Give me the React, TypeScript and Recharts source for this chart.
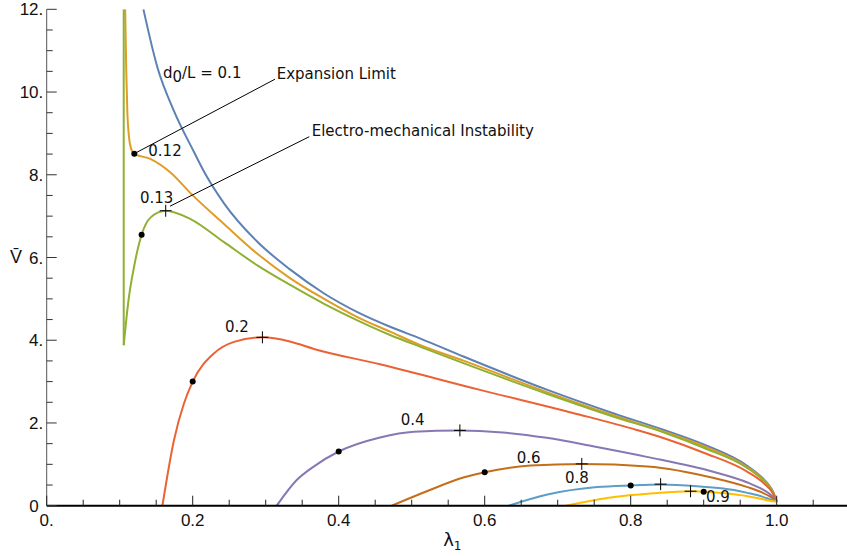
import React from "react";
import { ComposedChart, Line, Scatter, XAxis, YAxis, ReferenceLine } from "recharts";

// d0/L = 0.1 (blue)
const lam010 = [0.1325, 0.1516, 0.1744, 0.2018, 0.2145, 0.2429, 0.2886, 0.3342, 0.38, 0.4256, 0.4712, 0.512, 0.5717, 0.686, 0.777, 0.8457, 0.9, 0.96, 0.98, 0.99, 0.995, 1.0];
const v010 = [12, 10.6, 9.54, 8.55, 8.11, 7.31, 6.38, 5.7, 5.13, 4.68, 4.32, 4.04, 3.6, 2.8, 2.23, 1.83, 1.48, 0.96, 0.68, 0.48, 0.34, 0.1];
// d0/L = 0.12 (orange)
const lam012 = [0.1075, 0.109, 0.1105, 0.1125, 0.1151, 0.1196, 0.1425, 0.17, 0.1973, 0.2429, 0.2886, 0.3342, 0.38, 0.4256, 0.4712, 0.512, 0.5717, 0.686, 0.777, 0.8457, 0.9, 0.96, 0.98, 0.99, 0.995, 1.0];
const v012 = [12, 10.5, 9.5, 8.95, 8.66, 8.51, 8.38, 8.05, 7.55, 6.81, 6.09, 5.49, 5.0, 4.56, 4.2, 3.88, 3.5, 2.74, 2.18, 1.79, 1.44, 0.93, 0.66, 0.47, 0.33, 0.1];
// d0/L = 0.13 (green): vertical branch + main branch
const lam013v = [0.1055, 0.1055];
const v013v = [12, 3.88];
const lam013 = [0.1055, 0.112, 0.1196, 0.13, 0.1425, 0.163, 0.197, 0.2429, 0.2886, 0.3342, 0.38, 0.4256, 0.4712, 0.512, 0.5717, 0.686, 0.777, 0.8457, 0.9, 0.96, 0.98, 0.99, 0.995, 1.0];
const v013 = [3.88, 4.96, 5.77, 6.55, 6.97, 7.13, 6.93, 6.37, 5.81, 5.33, 4.88, 4.48, 4.12, 3.84, 3.44, 2.7, 2.15, 1.77, 1.4, 0.91, 0.64, 0.46, 0.32, 0.1];
// d0/L = 0.2 (red)
const lam02 = [0.1585, 0.1744, 0.188, 0.2, 0.229, 0.2566, 0.2955, 0.333, 0.366, 0.4566, 0.5936, 0.7305, 0.8082, 0.8457, 0.9, 0.96, 0.98, 0.99, 0.995, 1.0];
const v02 = [0, 1.59, 2.47, 3.0, 3.68, 3.96, 4.07, 3.97, 3.79, 3.42, 2.8, 2.2, 1.83, 1.63, 1.28, 0.82, 0.58, 0.41, 0.29, 0.1];
// d0/L = 0.4 (purple)
const lam04 = [0.3151, 0.3425, 0.3652, 0.4, 0.4566, 0.503, 0.566, 0.625, 0.685, 0.75, 0.822, 0.913, 0.96, 0.98, 0.99, 0.995, 1.0];
const v04 = [0, 0.62, 0.94, 1.31, 1.65, 1.79, 1.82, 1.77, 1.64, 1.43, 1.18, 0.82, 0.56, 0.4, 0.29, 0.21, 0.1];
// d0/L = 0.6 (brown)
const lam06 = [0.4726, 0.525, 0.5707, 0.6, 0.663, 0.733, 0.823, 0.914, 0.96, 0.98, 0.99, 1.0];
const v06 = [0, 0.38, 0.68, 0.81, 0.97, 1.01, 0.95, 0.67, 0.45, 0.32, 0.23, 0.1];
// d0/L = 0.8 (light blue)
const lam08 = [0.633, 0.686, 0.754, 0.8, 0.841, 0.891, 0.9415, 0.96, 0.98, 0.99, 1.0];
const v08 = [0, 0.27, 0.45, 0.49, 0.51, 0.47, 0.38, 0.31, 0.22, 0.16, 0.1];
// d0/L = 0.9 (yellow)
const lam09 = [0.711, 0.759, 0.777, 0.83, 0.882, 0.9, 0.93, 0.96, 0.98, 0.99, 1.0];
const v09 = [0, 0.16, 0.21, 0.3, 0.35, 0.34, 0.3, 0.23, 0.16, 0.12, 0.1];

// expansion limit points (dots)
const dotLam = [0.12, 0.13, 0.2, 0.4, 0.6, 0.8, 0.9];
const dotV = [8.51, 6.55, 3.0, 1.31, 0.81, 0.49, 0.34];
// electro-mechanical instability points (crosses)
const plusLam = [0.163, 0.2955, 0.566, 0.733, 0.841, 0.882];
const plusV = [7.13, 4.07, 1.82, 1.01, 0.52, 0.35];

// curve labels
const curveLabels = ["0.12", "0.13", "0.2", "0.4", "0.6", "0.8", "0.9"];
const curveLabelLam = [0.1392, 0.1278, 0.2442, 0.4849, 0.6438, 0.71, 0.9031];
const curveLabelV = [8.45, 7.32, 4.2, 1.95, 1.03, 0.55, 0.09];

// annotation texts
const annoTexts = ["Expansion Limit", "Electro-mechanical Instability"];
const annoLam = [0.3151, 0.363];
const annoV = [10.31, 8.94];
const firstLabelLam = [0.1593];
const firstLabelV = [10.34];

// leader lines
const leaderExp = [{ x: 0.12, y: 8.51 }, { x: 0.3127, y: 10.31 }];
const leaderEmi = [{ x: 0.1689, y: 7.24 }, { x: 0.3597, y: 8.92 }];

// ticks
const xMajor = [0, 0.2, 0.4, 0.6, 0.8, 1.0];
const xLabels = ["0.", "0.2", "0.4", "0.6", "0.8", "1.0"];
const xAllTicks = [0, 0.05, 0.1, 0.15, 0.2, 0.25, 0.3, 0.35, 0.4, 0.45, 0.5, 0.55, 0.6, 0.65, 0.7, 0.75, 0.8, 0.85, 0.9, 0.95, 1.0, 1.05];
const yMajor = [0, 2, 4, 6, 8, 10, 12];
const yLabels = ["0", "2.", "4.", "6.", "8.", "10.", "12."];
const yAllTicks = [0, 0.5, 1, 1.5, 2, 2.5, 3, 3.5, 4, 4.5, 5, 5.5, 6, 6.5, 7, 7.5, 8, 8.5, 9, 9.5, 10, 10.5, 11, 11.5, 12];

const zip = (l: number[], v: number[]) => l.map((x, i) => ({ x, y: v[i] }));

const series = [
  { name: "0.1", data: zip(lam010, v010), color: "#5E81B5" },
  { name: "0.12", data: zip(lam012, v012), color: "#E19C24" },
  { name: "0.13v", data: zip(lam013v, v013v), color: "#8FB032", linear: true },
  { name: "0.13", data: zip(lam013, v013), color: "#8FB032" },
  { name: "0.2", data: zip(lam02, v02), color: "#EB6235" },
  { name: "0.4", data: zip(lam04, v04), color: "#8778B3" },
  { name: "0.6", data: zip(lam06, v06), color: "#C56E1A" },
  { name: "0.8", data: zip(lam08, v08), color: "#5D9EC7" },
  { name: "0.9", data: zip(lam09, v09), color: "#FFBF00" },
];

const dots = zip(dotLam, dotV);
const pluses = zip(plusLam, plusV);
const curveLabelData = curveLabelLam.map((x, i) => ({ x, y: curveLabelV[i], label: curveLabels[i] }));
const annoData = annoLam.map((x, i) => ({ x, y: annoV[i], label: annoTexts[i] }));
const firstLabelData = zip(firstLabelLam, firstLabelV);

const TEXT_FONT = "DejaVu Sans, Verdana, sans-serif";
const TICK_FONT = "Liberation Sans, Arial, sans-serif";

const idxOf = (arr: number[], v: number) => arr.findIndex((m) => Math.abs(m - v) < 1e-6);

function BottomTick(p: any) {
  const { x, y, payload } = p;
  const i = idxOf(xMajor, payload.value);
  const len = i >= 0 ? 10 : 6;
  return (
    <g>
      <line x1={x} y1={y} x2={x} y2={y - len} stroke="#222" strokeWidth={1} />
      {i >= 0 && (
        <text x={x} y={y + 20} textAnchor="middle" fontFamily={TICK_FONT} fontSize={17} fill="#111">
          {xLabels[i]}
        </text>
      )}
    </g>
  );
}

function TopTick(p: any) {
  const { x, y, payload } = p;
  const i = idxOf(xMajor, payload.value);
  const len = i >= 0 ? 10 : 6;
  return <line x1={x} y1={y} x2={x} y2={y + len} stroke="#333" strokeWidth={1} />;
}

function LeftTick(p: any) {
  const { x, y, payload } = p;
  const i = idxOf(yMajor, payload.value);
  const len = i >= 0 ? 10 : 6;
  const lbl = i >= 0 ? yLabels[i] : "";
  const shift = lbl.endsWith(".") ? 0 : -4.7;
  return (
    <g>
      <line x1={x} y1={y} x2={x + len} y2={y} stroke="#333" strokeWidth={1} />
      {i >= 0 && (
        <text x={x - 3.4 + shift} y={y + 6} textAnchor="end" fontFamily={TICK_FONT} fontSize={17} fill="#111">
          {lbl}
        </text>
      )}
    </g>
  );
}

function RightTick(p: any) {
  const { x, y, payload } = p;
  const i = idxOf(yMajor, payload.value);
  const len = i >= 0 ? 10 : 6;
  return <line x1={x} y1={y} x2={x - len} y2={y} stroke="#333" strokeWidth={1} />;
}

const DotShape = (p: any) => <circle cx={p.cx} cy={p.cy} r={3} fill="#000" />;
const PlusShape = (p: any) => (
  <path d={`M${p.cx - 6},${p.cy}H${p.cx + 6}M${p.cx},${p.cy - 6}V${p.cy + 6}`} stroke="#000" strokeWidth={1} fill="none" />
);
const LabelShape = (p: any) => (
  <text x={p.cx} y={p.cy} fontFamily={TEXT_FONT} fontSize={15} fill="#111">
    {p.payload.label}
  </text>
);
const FirstLabelShape = (p: any) => (
  <text x={p.cx} y={p.cy} fontFamily={TEXT_FONT} fontSize={15} fill="#111">
    d<tspan dy={4}>0</tspan>
    <tspan dy={-4}>/L = 0.1</tspan>
  </text>
);

const YLabel = (props: any) => {
  const vb = props.viewBox || { x: 0, y: 9.3, width: 46.7, height: 496.4 };
  return (
    <text x={vb.x + 16} y={vb.y + vb.height / 2 + 5.5} textAnchor="middle" fontFamily={TICK_FONT} fontSize={18} fill="#111">
      {"V\u0304"}
    </text>
  );
};

const XLabel = (props: any) => {
  const vb = props.viewBox || { x: 46.7, y: 505.7, width: 803, height: 50.3 };
  return (
    <text x={vb.x + vb.width / 2 - 5} y={vb.y + 40.5} fontFamily={TEXT_FONT} fontSize={18} fill="#111">
      λ<tspan fontSize={12} dy={4}>1</tspan>
    </text>
  );
};

export default function App() {
  return (
    <div style={{ position: "fixed", left: 0, top: 0, width: 847, height: 556, overflow: "hidden", background: "#fff" }}>
      <ComposedChart width={870} height={556} margin={{ top: 9.3, right: 20.3, bottom: 0, left: 0 }}>
        <XAxis
          dataKey="x"
          type="number"
          domain={[0, 1.1]}
          allowDataOverflow
          ticks={xAllTicks}
          interval={0}
          tickSize={0}
          tickMargin={0}
          tickLine={false}
          height={50.3}
          axisLine={{ stroke: "#000", strokeWidth: 2 }}
          tick={(p: any) => <BottomTick {...p} />}
          label={{ content: (p: any) => <XLabel {...p} /> }}
        />
        <XAxis
          xAxisId="top"
          orientation="top"
          dataKey="x"
          type="number"
          domain={[0, 1.1]}
          allowDataOverflow
          ticks={xAllTicks}
          interval={0}
          tickSize={0}
          tickMargin={0}
          tickLine={false}
          height={0}
          axisLine={{ stroke: "#555", strokeWidth: 1 }}
          tick={(p: any) => <TopTick {...p} />}
        />
        <YAxis
          type="number"
          domain={[0, 12]}
          allowDataOverflow
          ticks={yAllTicks}
          interval={0}
          tickSize={0}
          tickMargin={0}
          tickLine={false}
          width={46.7}
          axisLine={{ stroke: "#555", strokeWidth: 1 }}
          tick={(p: any) => <LeftTick {...p} />}
          label={{ content: (p: any) => <YLabel {...p} /> }}
        />
        <YAxis
          yAxisId="right"
          orientation="right"
          type="number"
          domain={[0, 12]}
          allowDataOverflow
          ticks={yAllTicks}
          interval={0}
          tickSize={0}
          tickMargin={0}
          tickLine={false}
          width={0}
          axisLine={{ stroke: "#555", strokeWidth: 1 }}
          tick={(p: any) => <RightTick {...p} />}
        />
        {series.map((s) => (
          <Line
            key={s.name}
            data={s.data}
            dataKey="y"
            type={s.linear ? "linear" : "monotone"}
            stroke={s.color}
            strokeWidth={2}
            dot={false}
            activeDot={false}
            isAnimationActive={false}
          />
        ))}
        <ReferenceLine segment={leaderExp} stroke="#000" strokeWidth={1} ifOverflow="visible" />
        <ReferenceLine segment={leaderEmi} stroke="#000" strokeWidth={1} ifOverflow="visible" />
        <Scatter data={dots} dataKey="y" shape={DotShape} isAnimationActive={false} />
        <Scatter data={pluses} dataKey="y" shape={PlusShape} isAnimationActive={false} />
        <Scatter data={curveLabelData} dataKey="y" shape={LabelShape} isAnimationActive={false} />
        <Scatter data={annoData} dataKey="y" shape={LabelShape} isAnimationActive={false} />
        <Scatter data={firstLabelData} dataKey="y" shape={FirstLabelShape} isAnimationActive={false} />
      </ComposedChart>
    </div>
  );
}
